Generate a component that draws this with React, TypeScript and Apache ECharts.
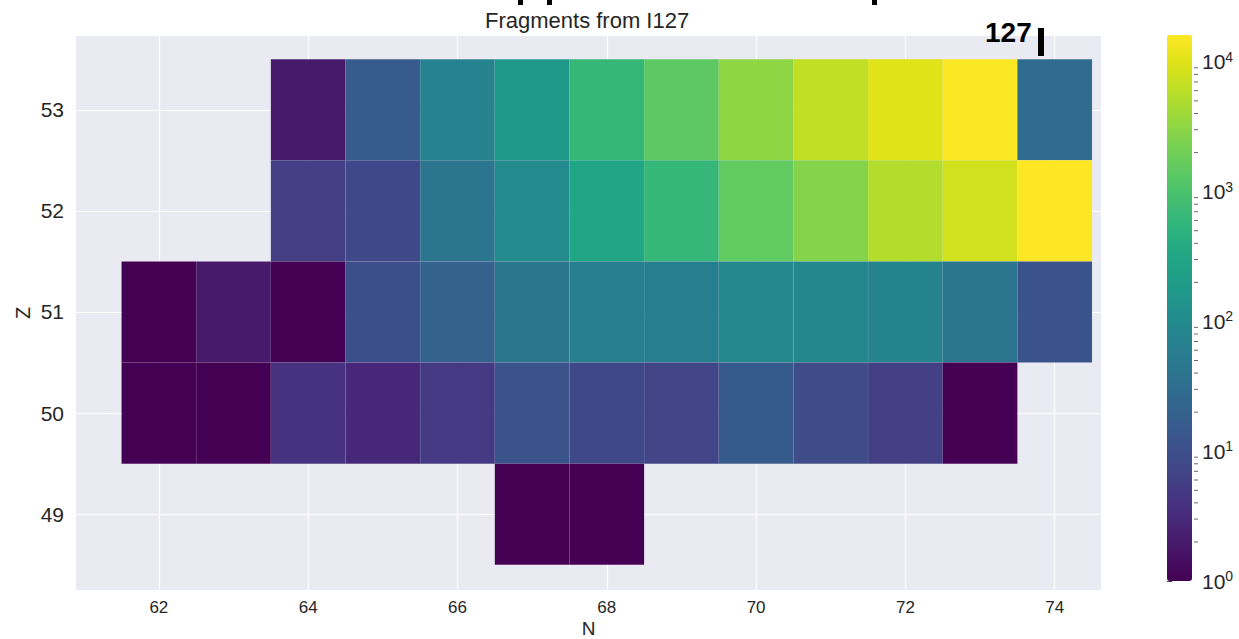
import React, { useEffect, useRef } from "react";
import * as echarts from "echarts";

// ---- chart text and ticks ----
const titleText = "Fragments from I127";
const xName = "N";
const yName = "Z";
const xTicks = [62, 64, 66, 68, 70, 72, 74];
const yTicks = [49, 50, 51, 52, 53];
const colorbarMajorTicks = [1, 10, 100, 1000, 10000];
const colorbarMinorTicks = [
  2, 3, 4, 5, 6, 7, 8, 9,
  20, 30, 40, 50, 60, 70, 80, 90,
  200, 300, 400, 500, 600, 700, 800, 900,
  2000, 3000, 4000, 5000, 6000, 7000, 8000, 9000,
];

// ---- fragment yields: neutron numbers and counts for each Z ----
const z53N = [64, 65, 66, 67, 68, 69, 70, 71, 72, 73, 74];
const z53Counts = [2, 16, 71, 187, 630, 1440, 3100, 6400, 9900, 15600, 30];

const z52N = [64, 65, 66, 67, 68, 69, 70, 71, 72, 73, 74];
const z52Counts = [6, 8, 42, 100, 305, 620, 1500, 2690, 5300, 8200, 16100];

const z51N = [62, 63, 64, 65, 66, 67, 68, 69, 70, 71, 72, 73, 74];
const z51Counts = [1, 2, 1, 10, 20, 42, 64, 62, 90, 88, 75, 45, 12];

const z50N = [62, 63, 64, 65, 66, 67, 68, 69, 70, 71, 72, 73];
const z50Counts = [1, 1, 4, 3, 5, 12, 8, 7, 15, 9, 6, 1];

const z49N = [67, 68];
const z49Counts = [1, 1];

const rows: { z: number; n: number[]; counts: number[] }[] = [
  { z: 53, n: z53N, counts: z53Counts },
  { z: 52, n: z52N, counts: z52Counts },
  { z: 51, n: z51N, counts: z51Counts },
  { z: 50, n: z50N, counts: z50Counts },
  { z: 49, n: z49N, counts: z49Counts },
];

const viridis = [
  "#440154", "#471365", "#482475", "#463480", "#414487", "#3b528b",
  "#355f8d", "#2f6c8e", "#2a788e", "#25848e", "#21918c", "#1e9c89",
  "#22a884", "#2fb47c", "#44bf70", "#5ec962", "#7ad151", "#9bd93c",
  "#bddf26", "#dfe318", "#fde725",
];

const FONT = "Liberation Sans, Arial, sans-serif";
const TEXT_COLOR = "#262626";

export default function App() {
  const ref = useRef<HTMLDivElement>(null);

  useEffect(() => {
    if (!ref.current) return;
    const chart = echarts.init(ref.current, undefined, { renderer: "svg" });

    const cells: number[][] = [];
    rows.forEach((row) => {
      row.n.forEach((n, i) => {
        const c = row.counts[i];
        cells.push([n, row.z, c, Math.log10(c)]);
      });
    });
    const maxCount = Math.max(...cells.map((d) => d[2]));
    const minCount = Math.min(...cells.map((d) => d[2]));

    const exponent = (v: number) => Math.round(Math.log10(v));

    chart.setOption({
      animation: false,
      backgroundColor: "#ffffff",
      textStyle: { fontFamily: FONT },
      grid: [
        {
          left: 76, top: 36, width: 1025, height: 554,
          backgroundColor: "#eaeaf2", show: true, borderWidth: 0,
          outerBoundsMode: "none", containLabel: false,
        },
        {
          left: 1167, top: 35, width: 25, height: 546, show: false,
          outerBoundsMode: "none", containLabel: false,
        },
      ],
      xAxis: [
        {
          type: "value",
          gridIndex: 0,
          min: 60.89,
          max: 74.62,
          axisLine: { show: false },
          axisTick: { show: false, customValues: xTicks },
          axisLabel: {
            customValues: xTicks,
            fontSize: 17,
            color: TEXT_COLOR,
            margin: 9,
            fontFamily: FONT,
          },
          splitLine: { show: true, lineStyle: { color: "#ffffff", width: 1.2 } },
          name: xName,
          nameLocation: "middle",
          nameMoveOverlap: false,
          nameGap: 30,
          nameTextStyle: { fontSize: 19, lineHeight: 16, color: TEXT_COLOR, fontFamily: FONT },
        },
        { type: "value", gridIndex: 1, min: 0, max: 1, show: false },
      ],
      yAxis: [
        {
          type: "value",
          gridIndex: 0,
          min: 48.25,
          max: 53.73,
          axisLine: { show: false },
          axisTick: { show: false, customValues: yTicks },
          axisLabel: {
            customValues: yTicks,
            fontSize: 21,
            color: TEXT_COLOR,
            margin: 12,
            fontFamily: FONT,
          },
          splitLine: { show: true, lineStyle: { color: "#ffffff", width: 1.2 } },
          name: yName,
          nameLocation: "middle",
          nameMoveOverlap: false,
          nameGap: 43,
          nameTextStyle: { fontSize: 20, color: TEXT_COLOR, fontFamily: FONT },
        },
        {
          type: "log",
          logBase: 10,
          gridIndex: 1,
          min: minCount,
          max: maxCount,
          position: "right",
          axisLine: { show: false },
          splitLine: { show: false },
          axisTick: {
            show: true,
            customValues: colorbarMajorTicks,
            length: 5,
            lineStyle: { color: "#444444", width: 1 },
          },
          axisLabel: {
            customValues: colorbarMajorTicks,
            margin: 10,
            formatter: (v: number) => `{b|10}{s|${exponent(v)}}`,
            rich: {
              b: { fontSize: 21, color: TEXT_COLOR, fontFamily: FONT, lineHeight: 24 },
              s: { fontSize: 14, color: TEXT_COLOR, fontFamily: FONT, verticalAlign: "top", lineHeight: 14 },
            },
          },
        },
      ],
      visualMap: {
        type: "continuous",
        seriesIndex: 0,
        dimension: 3,
        min: Math.log10(minCount),
        max: Math.log10(maxCount),
        inRange: { color: viridis },
        left: 1167,
        top: 35,
        itemWidth: 25,
        itemHeight: 546,
        padding: 0,
        calculable: false,
        hoverLink: false,
        showLabel: false,
        indicatorSize: 0,
        indicatorStyle: { opacity: 0 },
        handleStyle: { opacity: 0 },
      },
      series: [
        {
          type: "custom",
          xAxisIndex: 0,
          yAxisIndex: 0,
          data: cells,
          encode: { x: 0, y: 1 },
          renderItem: (params: any, api: any) => {
            const n = api.value(0);
            const z = api.value(1);
            const p0 = api.coord([n - 0.5, z + 0.5]);
            const p1 = api.coord([n + 0.5, z - 0.5]);
            return {
              type: "rect",
              shape: { x: p0[0], y: p0[1], width: p1[0] - p0[0], height: p1[1] - p0[1] },
              style: { fill: api.visual("color"), stroke: "rgba(255,255,255,0.07)", lineWidth: 0.6 },
            };
          },
          z: 3,
        },
        {
          type: "scatter",
          xAxisIndex: 1,
          yAxisIndex: 1,
          data: colorbarMinorTicks.map((v) => [1, v]),
          symbol: "rect",
          symbolSize: [4, 1],
          symbolOffset: [4, 0],
          itemStyle: { color: "#444444" },
          silent: true,
        },
      ],
      graphic: [
        {
          type: "text",
          left: 588 - 103,
          top: 9,
          style: { text: titleText, font: `22px ${FONT}`, fill: TEXT_COLOR },
        },
        {
          type: "text",
          x: 985,
          y: 18,
          style: { text: "127", font: `bold 28px ${FONT}`, fill: "#000000" },
        },
        {
          type: "rect",
          shape: { x: 1038, y: 28, width: 6, height: 28 },
          style: { fill: "#000000" },
        },
        { type: "rect", shape: { x: 518, y: 0, width: 5, height: 5 }, style: { fill: "#000000" } },
        { type: "rect", shape: { x: 547, y: 0, width: 5, height: 5 }, style: { fill: "#000000" } },
        { type: "rect", shape: { x: 872, y: 0, width: 5, height: 5 }, style: { fill: "#000000" } },
      ],
    });

    return () => chart.dispose();
  }, []);

  return (
    <div
      ref={ref}
      style={{ position: "absolute", left: 0, top: 0, width: 1239, height: 639 }}
    />
  );
}
